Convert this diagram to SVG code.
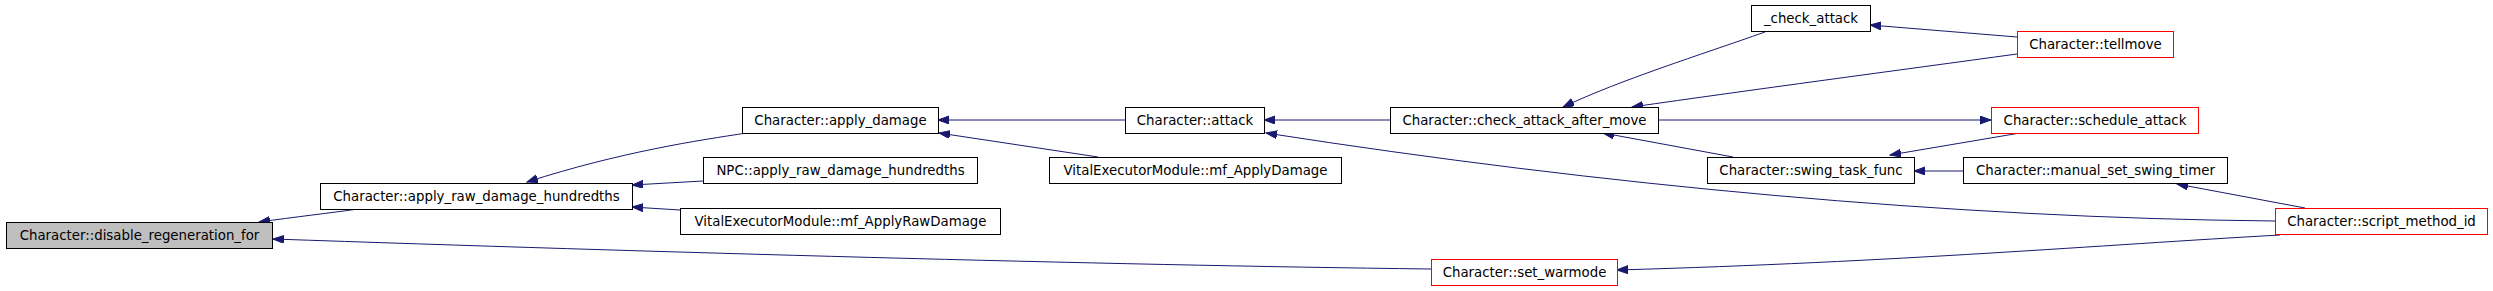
<svg xmlns="http://www.w3.org/2000/svg" width="2493" height="291" viewBox="0 0 2493 291">
<style>
.n rect{fill:#ffffff;stroke:#000000;stroke-width:1}
.n.g rect{fill:#bfbfbf}
.n.r rect{stroke:#ff0000}
.n text{font-family:"DejaVu Sans",sans-serif;font-size:13.33px;fill:#000000;text-anchor:middle}
#edges path{fill:none;stroke:#191970;stroke-width:1;marker-end:url(#ah)}
</style>
<defs>
<marker id="ah" markerUnits="userSpaceOnUse" markerWidth="12" markerHeight="9" refX="11" refY="4" orient="auto">
<path d="M0,0 L11,4 L0,8 z" fill="#191970" stroke="#191970" stroke-width="1"/>
</marker>
</defs>
<rect width="2493" height="291" fill="#ffffff"/>
<g id="edges">
<path d="M358,209 C330,213 295,217 259,222"/>
<path d="M1431,269 C1100,265 650,252 273,239"/>
<path d="M747,133 C700,140 620,152 527,182"/>
<path d="M703,181 L632,185"/>
<path d="M680,210 L632,207"/>
<path d="M1125,120 L938,120"/>
<path d="M1098,157 L939,133"/>
<path d="M1390,120 L1264,120"/>
<path d="M2275,221 C1950,218 1600,185 1266,133"/>
<path d="M1765,32 C1700,55 1620,80 1563,107"/>
<path d="M2017,54 C1900,70 1750,90 1632,107"/>
<path d="M2017,37 L1870,25"/>
<path d="M1658,120 L1991,120"/>
<path d="M2020,133 L1890,155"/>
<path d="M1733,157 L1603,133"/>
<path d="M1963,171 L1914,171"/>
<path d="M2305,208 L2177,184"/>
<path d="M2280,235 C2100,245 1900,262 1617,270"/>
</g>
<g id="disable_regeneration_for" class="n g"><rect x="6.5" y="222.5" width="266" height="26"/><text x="139.5" y="240">Character::disable_regeneration_for</text></g>
<g id="apply_raw_damage_hundredths" class="n"><rect x="320.5" y="183.5" width="312" height="26"/><text x="476.5" y="201">Character::apply_raw_damage_hundredths</text></g>
<g id="apply_damage" class="n"><rect x="742.5" y="107.5" width="196" height="26"/><text x="840.5" y="125">Character::apply_damage</text></g>
<g id="npc_apply_raw" class="n"><rect x="703.5" y="157.5" width="274" height="26"/><text x="840.5" y="175">NPC::apply_raw_damage_hundredths</text></g>
<g id="vital_apply_raw" class="n"><rect x="680.5" y="208.5" width="320" height="26"/><text x="840.5" y="226">VitalExecutorModule::mf_ApplyRawDamage</text></g>
<g id="attack" class="n"><rect x="1125.5" y="107.5" width="139" height="26"/><text x="1195" y="125">Character::attack</text></g>
<g id="vital_apply_damage" class="n"><rect x="1049.5" y="157.5" width="292" height="26"/><text x="1195.5" y="175">VitalExecutorModule::mf_ApplyDamage</text></g>
<g id="check_attack_after_move" class="n"><rect x="1390.5" y="107.5" width="268" height="26"/><text x="1524.5" y="125">Character::check_attack_after_move</text></g>
<g id="set_warmode" class="n r"><rect x="1431.5" y="259.5" width="186" height="26"/><text x="1524.5" y="277">Character::set_warmode</text></g>
<g id="_check_attack" class="n"><rect x="1751.5" y="5.5" width="119" height="26"/><text x="1811" y="23">_check_attack</text></g>
<g id="swing_task_func" class="n"><rect x="1707.5" y="157.5" width="207" height="26"/><text x="1811" y="175">Character::swing_task_func</text></g>
<g id="tellmove" class="n r"><rect x="2017.5" y="31.5" width="156" height="26"/><text x="2095.5" y="49">Character::tellmove</text></g>
<g id="schedule_attack" class="n r"><rect x="1991.5" y="107.5" width="207" height="26"/><text x="2095" y="125">Character::schedule_attack</text></g>
<g id="manual_set_swing_timer" class="n"><rect x="1963.5" y="157.5" width="264" height="26"/><text x="2095.5" y="175">Character::manual_set_swing_timer</text></g>
<g id="script_method_id" class="n r"><rect x="2275.5" y="208.5" width="212" height="26"/><text x="2381.5" y="226">Character::script_method_id</text></g>
</svg>
